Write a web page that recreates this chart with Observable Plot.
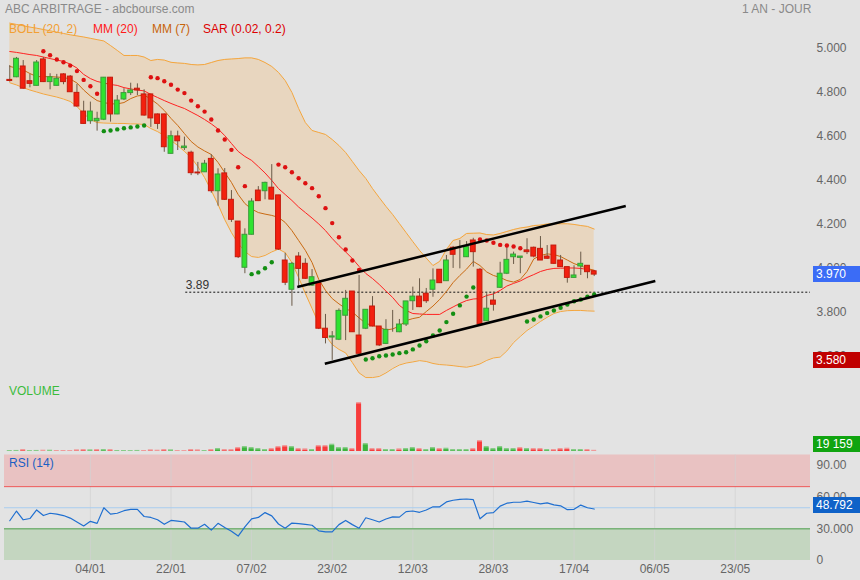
<!DOCTYPE html>
<html><head><meta charset="utf-8">
<script src="https://cdn.jsdelivr.net/npm/d3@7"></script>
<script src="https://cdn.jsdelivr.net/npm/@observablehq/plot@0.6"></script>
<style>
body{margin:0;background:#e3e3e3;}
#wrap{position:relative;width:860px;height:580px;background:#e3e3e3;font-family:"Liberation Sans",Arial,sans-serif;overflow:hidden;}
#wrap svg{position:absolute;left:0;overflow:visible;}
.t{position:absolute;font-size:12px;white-space:nowrap;line-height:14px;}
.box{position:absolute;left:813px;width:44px;height:16px;line-height:16px;color:#fff;font-size:12px;padding-left:3px;}
</style></head><body><div id="wrap"></div>
<script>
// ---- data (index = trading day) ----
const opens = [4.855,4.867,4.916,4.849,4.828,4.948,4.845,4.828,4.880,4.870,
4.796,4.711,4.667,4.667,4.674,4.865,4.698,4.766,4.795,4.815,
4.789,4.789,4.698,4.698,4.519,4.598,4.545,4.524,4.434,4.435,
4.496,4.349,4.430,4.310,4.211,4.001,4.151,4.352,4.349,4.365,
4.330,4.034,3.901,4.052,4.019,3.920,3.931,3.724,3.684,3.674,
3.783,3.893,3.693,3.724,3.825,3.734,3.655,3.751,3.708,3.743,
3.849,3.870,3.883,3.901,3.992,3.940,4.092,4.080,4.049,4.125,
3.992,3.758,3.852,3.910,3.974,4.049,4.046,4.080,4.092,4.087,
4.052,4.102,4.034,4.004,3.955,4.007,4.010,3.985];
const highs = [4.920,4.957,4.943,4.880,4.943,4.957,4.883,4.880,4.883,4.875,
4.834,4.758,4.754,4.708,4.866,4.866,4.784,4.815,4.840,4.837,
4.810,4.790,4.700,4.700,4.622,4.622,4.595,4.531,4.480,4.489,
4.515,4.451,4.452,4.352,4.211,4.178,4.315,4.370,4.390,4.470,
4.330,4.067,4.025,4.070,4.042,3.993,3.931,3.789,3.711,3.814,
3.898,3.893,3.966,3.811,3.870,3.734,3.765,3.807,3.766,3.848,
3.913,3.951,3.907,3.996,3.992,4.057,4.098,4.125,4.120,4.135,
3.998,3.883,3.890,4.026,4.095,4.072,4.052,4.133,4.095,4.143,
4.102,4.102,4.057,4.004,4.010,4.072,4.010,3.989];
const lows = [4.845,4.865,4.813,4.819,4.827,4.843,4.810,4.827,4.833,4.798,
4.732,4.653,4.653,4.622,4.670,4.663,4.697,4.761,4.784,4.784,
4.690,4.639,4.630,4.526,4.517,4.534,4.534,4.420,4.420,4.434,
4.340,4.281,4.307,4.207,4.043,3.974,4.150,4.302,4.310,4.310,
4.080,3.920,3.826,3.913,3.948,3.916,3.720,3.655,3.580,3.670,
3.670,3.707,3.610,3.720,3.732,3.643,3.652,3.708,3.706,3.734,
3.807,3.820,3.839,3.867,3.930,3.939,3.998,3.996,4.048,4.004,
3.739,3.757,3.804,3.907,3.970,4.016,3.974,4.061,4.046,4.034,
4.039,4.016,4.002,3.931,3.955,3.966,3.951,3.961];
const closes = [4.850,4.951,4.815,4.837,4.934,4.845,4.867,4.860,4.845,4.799,
4.734,4.655,4.711,4.678,4.865,4.698,4.761,4.795,4.807,4.807,
4.693,4.680,4.655,4.549,4.599,4.576,4.552,4.431,4.430,4.474,
4.349,4.425,4.310,4.219,4.049,4.151,4.302,4.304,4.387,4.311,
4.084,3.933,4.019,3.996,3.951,3.958,3.724,3.682,3.689,3.805,
3.860,3.708,3.610,3.810,3.734,3.648,3.719,3.751,3.743,3.848,
3.870,3.822,3.849,3.943,3.931,4.034,4.060,4.080,4.095,4.072,
3.743,3.815,3.833,3.974,4.037,4.061,4.052,4.072,4.052,4.034,
4.042,4.019,4.004,3.955,3.966,4.019,3.981,3.970];
const volumes = [16000,17000,32000,15000,17000,21000,21000,16000,16000,15000,
27000,32000,27000,32000,32000,31000,16000,16000,15000,17000,
16000,27000,21000,32000,27000,16000,15000,32000,27000,16000,
32000,48000,32000,31000,64000,80000,64000,48000,32000,48000,
80000,96000,80000,48000,43000,32000,96000,96000,117000,64000,
64000,48000,784000,128000,48000,48000,32000,32000,43000,48000,
64000,48000,32000,64000,48000,53000,32000,32000,32000,48000,
176000,80000,48000,80000,48000,48000,64000,48000,48000,48000,
32000,32000,48000,53000,32000,32000,32000,19159];
const bollUpper = [5.113,5.107,5.101,5.095,5.090,5.084,5.078,5.072,5.066,5.060,
5.055,5.050,5.044,5.038,5.032,5.011,4.989,4.966,4.966,4.966,
4.959,4.943,4.948,4.945,4.935,4.932,4.930,4.925,4.923,4.925,
4.934,4.943,4.948,4.950,4.952,4.955,4.955,4.948,4.934,4.916,
4.889,4.852,4.798,4.725,4.661,4.625,4.616,4.607,4.584,4.557,
4.525,4.484,4.443,4.407,4.361,4.320,4.280,4.243,4.202,4.161,
4.120,4.080,4.045,4.011,4.030,4.084,4.125,4.134,4.157,4.158,
4.159,4.152,4.150,4.157,4.166,4.175,4.182,4.186,4.193,4.195,
4.200,4.201,4.201,4.201,4.198,4.193,4.189,4.177];
const bollLower = [4.842,4.832,4.820,4.809,4.800,4.791,4.784,4.777,4.768,4.757,
4.734,4.702,4.675,4.661,4.659,4.658,4.657,4.657,4.655,4.655,
4.652,4.634,4.620,4.602,4.580,4.557,4.530,4.502,4.461,4.411,
4.352,4.289,4.220,4.161,4.111,4.075,4.052,4.048,4.057,4.073,
4.086,4.070,4.025,3.957,3.884,3.816,3.748,3.693,3.652,3.630,
3.614,3.570,3.523,3.502,3.502,3.507,3.523,3.543,3.559,3.568,
3.573,3.579,3.575,3.566,3.561,3.559,3.556,3.552,3.549,3.555,
3.564,3.580,3.591,3.595,3.623,3.661,3.689,3.716,3.736,3.757,
3.776,3.793,3.802,3.806,3.807,3.807,3.805,3.804];
const mm20 = [4.984,4.980,4.975,4.970,4.966,4.959,4.952,4.945,4.939,4.927,
4.909,4.880,4.861,4.848,4.841,4.834,4.830,4.820,4.814,4.809,
4.805,4.789,4.775,4.761,4.748,4.736,4.725,4.709,4.693,4.675,
4.655,4.632,4.602,4.566,4.530,4.507,4.489,4.461,4.432,4.398,
4.361,4.334,4.307,4.277,4.252,4.227,4.200,4.170,4.134,4.102,
4.073,4.043,4.007,3.975,3.952,3.925,3.895,3.866,3.830,3.807,
3.793,3.791,3.789,3.789,3.789,3.807,3.823,3.839,3.852,3.859,
3.861,3.875,3.882,3.898,3.918,3.930,3.941,3.957,3.970,3.984,
3.993,3.998,3.999,4.000,4.000,3.998,3.993,3.989];
const mm7 = [4.916,4.909,4.900,4.884,4.870,4.870,4.870,4.868,4.866,4.859,
4.841,4.809,4.782,4.761,4.752,4.746,4.746,4.752,4.770,4.782,
4.786,4.768,4.745,4.716,4.680,4.648,4.611,4.575,4.550,4.532,
4.516,4.480,4.434,4.389,4.334,4.293,4.268,4.252,4.245,4.239,
4.230,4.207,4.170,4.125,4.080,4.025,3.948,3.898,3.861,3.837,
3.816,3.800,3.773,3.748,3.739,3.732,3.718,3.723,3.736,3.761,
3.770,3.776,3.802,3.827,3.857,3.893,3.934,3.966,3.995,4.030,
4.011,3.982,3.966,3.957,3.943,3.936,3.948,3.984,4.041,4.057,
4.064,4.061,4.052,4.036,4.020,4.009,3.998,3.989];
const sar = [null,null,null,null,null,4.985,4.967,4.948,4.935,4.920,
4.895,4.855,4.826,4.792,4.622,4.625,4.630,4.635,4.639,4.643,
4.648,4.867,4.863,4.849,4.833,4.811,4.795,4.761,4.735,4.711,
4.675,4.625,4.584,4.537,4.458,4.372,3.972,3.980,3.999,4.026,
4.470,4.458,4.435,4.408,4.385,4.363,4.326,4.272,4.204,4.140,
4.084,4.034,3.991,3.584,3.590,3.599,3.602,3.607,3.613,3.617,
3.630,3.648,3.667,3.693,3.716,3.754,3.792,3.830,3.870,3.911,
4.130,4.125,4.115,4.105,4.102,4.098,4.090,3.757,3.766,3.780,
3.795,3.807,3.819,3.834,3.849,3.857,3.870,3.880];
const rsi = [37.7,46.9,38.6,39.8,47.9,42.6,44.8,43.9,42.6,40.2,
36.5,32.8,37.1,35.2,50.0,43.9,44.8,47.2,48.5,48.5,
41.7,40.8,38.6,34.3,38.0,37.4,36.5,30.6,30.6,34.3,
28.8,35.2,31.2,27.8,23.2,31.8,39.5,40.8,45.4,42.3,
34.6,30.6,35.5,35.0,34.3,33.4,28.1,27.2,27.2,34.0,
38.0,34.0,30.6,40.5,38.6,36.5,39.3,41.4,41.1,46.3,
46.9,45.7,47.9,50.9,50.9,55.5,57.1,58.0,58.3,57.7,
39.5,44.8,45.4,51.5,54.3,55.2,55.2,56.2,55.0,53.7,
54.6,52.7,51.8,48.2,48.5,52.5,50.0,48.792];
const xTickIdx = [12,24,36,48,60,72,84,96,108];
const xTickLabels = ["04/01","22/01","07/02","23/02","12/03","28/03","17/04","06/05","23/05"];
const priceTicks = [3.6,3.8,4.0,4.2,4.4,4.6,4.8,5.0];
const rsiTicks = [0,30,60,90];
const rsiTickLabels = ["0","30.000","60.00","90.00"];
const rsiLevels = [70,50,30];
const levelValue = [3.89];
const levelStartIdx = [26.2];
const trendStartIdx = [42.8,46.9];
const trendStartVal = [3.914,3.565];
const trendEndIdx = [91.7,96.1];
const trendEndVal = [4.282,3.941];

// ---- build ----
const xDomain = [-0.785, 119.2];
const GREEN = "#2fe32f", GREEN_S = "#3c9a3c", RED = "#f3200f", RED_S = "#c41a0c";
const candles = closes.map((c,i)=>({i, o:opens[i], h:highs[i], l:lows[i], c, v:volumes[i],
  up: c>opens[i] ? 1 : c<opens[i] ? -1 : 0, vu: i===0 ? true : c>=closes[i-1]}));
const ind = closes.map((c,i)=>({i, up:bollUpper[i], lo:bollLower[i], m20:mm20[i], m7:mm7[i], s:sar[i], c, r:rsi[i]}));
const style = {fontFamily:"'Liberation Sans', Arial, sans-serif", fontSize:"12px", color:"#666", background:"transparent", overflow:"visible"};
const common = {width:860, marginLeft:4, marginRight:50, style};

const price = Plot.plot({...common, height:380, marginTop:0, marginBottom:0,
  x:{domain:xDomain, axis:null},
  y:{domain:[3.4886,5.2159], axis:"right", ticks:priceTicks, tickFormat:d=>d.toFixed(3), tickSize:0, tickPadding:6, label:null},
  marks:[
    Plot.areaY(ind, {x:"i", y1:"lo", y2:"up", fill:"#e8d6bf"}),
    Plot.lineY(ind, {x:"i", y:"up", stroke:"#f4a63e", strokeWidth:1}),
    Plot.lineY(ind, {x:"i", y:"lo", stroke:"#f4a63e", strokeWidth:1}),
    Plot.ruleY(levelValue, {y:d=>d, x1:()=>levelStartIdx[0], x2:()=>xDomain[1], stroke:"#111", strokeDasharray:"2,2", strokeWidth:1}),
    Plot.text(levelValue, {x:()=>levelStartIdx[0], y:d=>d, text:d=>d.toFixed(2), textAnchor:"start", dy:-7, fill:"#333", fontSize:12}),
    Plot.lineY(ind, {x:"i", y:"m20", stroke:"#ff2222", strokeWidth:1}),
    Plot.lineY(ind, {x:"i", y:"m7", stroke:"#c96a12", strokeWidth:1}),
    Plot.ruleX(candles, {x:"i", y1:"l", y2:"h", stroke:"#6a5a48", strokeWidth:1}),
    Plot.rect(candles, {x1:d=>d.i-0.36, x2:d=>d.i+0.36, y1:"o", y2:"c",
      fill:d=>d.up>0?GREEN:d.up<0?RED:"#6a5a48", stroke:d=>d.up>0?GREEN_S:d.up<0?RED_S:"#6a5a48", strokeWidth:1}),
    Plot.dot(ind.filter(d=>d.s!=null), {x:"i", y:"s", r:2.2, stroke:null, fill:d=>d.s>d.c?"#dd1111":"#138f13"}),
    Plot.link(trendStartIdx, {x1:(d,k)=>trendStartIdx[k], y1:(d,k)=>trendStartVal[k], x2:(d,k)=>trendEndIdx[k], y2:(d,k)=>trendEndVal[k], stroke:"#000", strokeWidth:2.5})
  ]});

const vol = Plot.plot({...common, height:73, marginTop:18, marginBottom:2,
  x:{domain:xDomain, axis:null},
  y:{domain:[0,848000], axis:null},
  marks:[
    Plot.rectY(candles, {x1:d=>d.i-0.37, x2:d=>d.i+0.37, y1:0, y2:"v", fill:d=>d.vu?"#88cc88":"#f09a9a"}),
    Plot.rectY(candles, {x1:d=>d.i-0.37, x2:d=>d.i+0.37, y1:0, y2:"v", insetTop:1.5, fill:d=>d.vu?"#3cb43c":"#f73c3c"})
  ]});

const zones = [{y1:70,y2:100,f:"#e9c2c2"},{y1:0,y2:30,f:"#c4d6c0"}];
const rsiPlot = Plot.plot({...common, height:130, marginTop:4.5, marginBottom:20,
  x:{domain:xDomain, axis:"bottom", ticks:xTickIdx, tickFormat:d=>xTickLabels[xTickIdx.indexOf(d)], tickSize:0, tickPadding:4, label:null},
  y:{domain:[0,100], axis:"right", ticks:rsiTicks, tickFormat:d=>rsiTickLabels[rsiTicks.indexOf(d)], tickSize:0, tickPadding:6, label:null},
  marks:[
    Plot.rect(zones, {x1:()=>xDomain[0], x2:()=>xDomain[1], y1:"y1", y2:"y2", fill:"f"}),
    Plot.ruleX(xTickIdx, {stroke:"#d2d2d2", strokeOpacity:0.7}),
    Plot.ruleY(rsiLevels, {stroke:d=>d===70?"#f05555":d===50?"#a9cdef":"#4f9f4f", strokeWidth:1}),
    Plot.lineY(ind, {x:"i", y:"r", stroke:"#1f6fd0", strokeWidth:1.2})
  ]});

const wrap = document.getElementById("wrap");
price.style.top = "0px"; vol.style.top = "380px"; rsiPlot.style.top = "450px";
wrap.appendChild(price); wrap.appendChild(vol); wrap.appendChild(rsiPlot);

function txt(s, x, y, color, size){const d=document.createElement("div");d.className="t";d.textContent=s;d.style.left=x+"px";d.style.top=(y-7)+"px";d.style.color=color;if(size)d.style.fontSize=size+"px";wrap.appendChild(d);}
function box(s, yc, bg){const d=document.createElement("div");d.className="box";d.textContent=s;d.style.top=(yc-8)+"px";d.style.background=bg;wrap.appendChild(d);}

txt("ABC ARBITRAGE - abcbourse.com", 5, 8.5, "#8a8a8a", 12);
txt("1 AN - JOUR", 742, 8.5, "#8a8a8a", 12);
txt("BOLL (20, 2)", 9, 28.5, "#f2a033");
txt("MM (20)", 93, 28.5, "#ff1a1a");
txt("MM (7)", 152, 28.5, "#c8640a");
txt("SAR (0.02, 0.2)", 203, 28.5, "#dd0000");
txt("VOLUME", 9, 390.5, "#3bbb3b");
txt("RSI (14)", 9, 463, "#1a5fc4");

const py = price.scale("y"), vy = vol.scale("y"), ry = rsiPlot.scale("y");
box(closes[closes.length-1].toFixed(3), py.apply(closes[closes.length-1]), "#3b6cf6");
box(d3.min(lows).toFixed(3), py.apply(d3.min(lows)), "#c00000");
box(d3.format(",")(volumes[volumes.length-1]).replace(",", " "), Math.min(380+vy.apply(volumes[volumes.length-1]), 444), "#10a410");
box(rsi[rsi.length-1].toFixed(3), 450+ry.apply(rsi[rsi.length-1])-4, "#0f62c8");
</script></body></html>
